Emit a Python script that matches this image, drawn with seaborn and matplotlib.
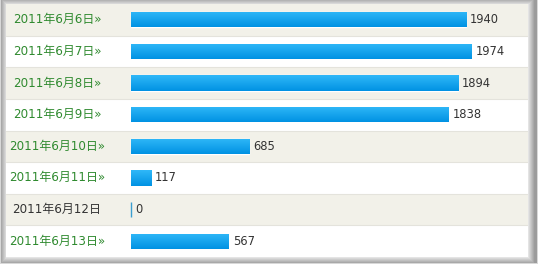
import numpy as np
import pandas as pd
import matplotlib
matplotlib.use("Agg")
import matplotlib.pyplot as plt
import seaborn as sns
from matplotlib.colors import LinearSegmentedColormap

# ---- data ----
dates = ["2011年6月6日", "2011年6月7日", "2011年6月8日", "2011年6月9日",
         "2011年6月10日", "2011年6月11日", "2011年6月12日", "2011年6月13日"]
counts = [1940, 1974, 1894, 1838, 685, 117, 0, 567]

df = pd.DataFrame({"date": dates, "count": counts})

sns.set_theme(style="white")
plt.rcParams['font.family'] = ['DejaVu Sans', 'Noto Sans CJK SC']
FAM = ['DejaVu Sans', 'Noto Sans CJK SC']

W, H = 538, 264
fig = plt.figure(figsize=(W / 100, H / 100), dpi=100)

# ---- shadow frame background ----
bg = fig.add_axes([0, 0, 1, 1])
bg.set_axis_off()
yy, xx = np.mgrid[0:H, 0:W]
left_px, top_px, right_px, bot_px = 6, 4, 528, 257
dx = np.maximum(np.maximum(left_px - xx, xx - right_px), 0)
dy = np.maximum(np.maximum(top_px - yy, yy - bot_px), 0)
d = np.maximum(dx, dy).astype(float)
val = np.clip(228 - 12 * d, 155, 255) / 255.0
val[(xx == 0) | (yy == H - 1) | (xx == W - 1)] = 0.85
img = np.dstack([val, val, val])
bg.imshow(img, extent=(0, W, H, 0), aspect='auto', interpolation='nearest')
bg.set_xlim(0, W)
bg.set_ylim(H, 0)

# ---- main axes ----
ax = fig.add_axes([left_px / W, 1 - bot_px / H, (right_px - left_px) / W, (bot_px - top_px) / H])
x0_px = 131
scale = (472 - 131) / 1974.0
xmin = (left_px - x0_px) / scale
xmax = (right_px - x0_px) / scale
n = len(dates)

sns.barplot(data=df, y="date", x="count", orient="h", color="#10A6F0",
            width=0.48, ax=ax, saturation=1, zorder=2)
bars = list(ax.patches)

for i in range(n):
    ax.axhspan(i - 0.5, i + 0.5, color='#F2F1E9' if i % 2 == 0 else 'white', zorder=0, lw=0)
    if i > 0:
        ax.axhline(i - 0.5, color='#E4E3DC', lw=0.8, zorder=0.5)

cmap = LinearSegmentedColormap.from_list("g", ["#30B8F8", "#0092E3"])
grad = np.linspace(0, 1, 64).reshape(-1, 1)
for p, v in zip(bars, counts):
    x, y, w, h = p.get_x(), p.get_y(), p.get_width(), p.get_height()
    if w <= 0:
        p.set_edgecolor('#3A9ED0')
        p.set_linewidth(1.0)
        continue
    im = ax.imshow(grad, cmap=cmap, extent=(x, x + w, y + h, y), aspect='auto',
                   zorder=3, interpolation='bilinear')
    im.set_clip_path(p)

for i, (lab, v) in enumerate(zip(dates, counts)):
    ax.text(v + 4 / scale, i, f"{v}", va='center', ha='left', fontsize=8.3,
            color='#333333', family=FAM, zorder=4)
    link = v > 0
    txt = lab + ("»" if link else "")
    ax.text((57 - x0_px) / scale, i, txt, va='center', ha='center', fontsize=8.6,
            color='#2F8A2F' if link else '#333333', family=FAM, zorder=4)

ax.set_xlim(xmin, xmax)
ax.set_ylim(n - 0.5, -0.5)
ax.set_axis_off()

fig.savefig("out.png", dpi=100)
